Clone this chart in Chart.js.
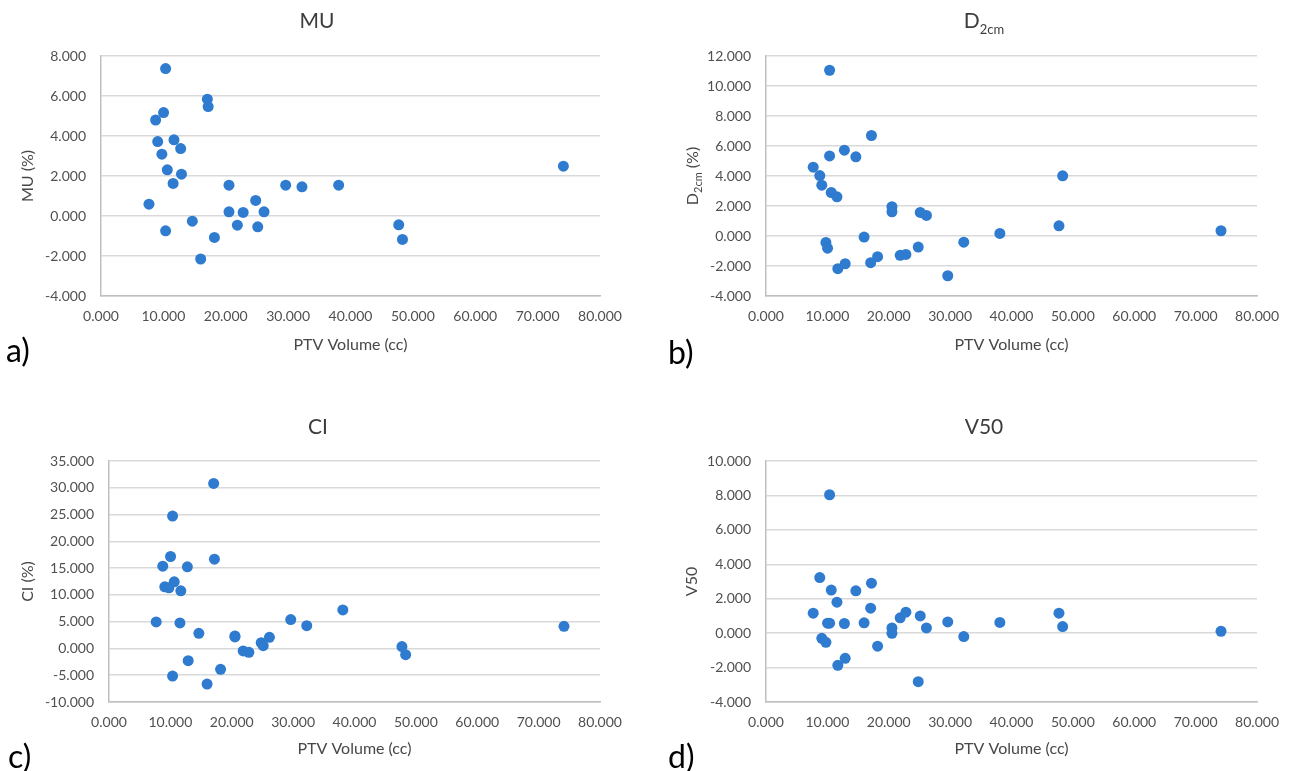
<!DOCTYPE html>
<html>
<head>
<meta charset="utf-8">
<script src="https://cdn.jsdelivr.net/npm/chart.js@4.4.1/dist/chart.umd.min.js"></script>
<style>
html, body { margin: 0; padding: 0; background: #ffffff; }
body { width: 1291px; height: 771px; position: relative; overflow: hidden; }
canvas { position: absolute; }
</style>
</head>
<body>
<canvas id="chartMU" width="645" height="385" style="left:0px;top:0px"></canvas>
<canvas id="chartD2cm" width="646" height="385" style="left:645px;top:0px"></canvas>
<canvas id="chartCI" width="645" height="381" style="left:0px;top:390px"></canvas>
<canvas id="chartV50" width="646" height="381" style="left:645px;top:390px"></canvas>
<script>
// ---------------- data ----------------
const ptvVolume = [7.69, 8.76, 9.09, 9.76, 10.03, 10.36, 10.36, 10.63, 11.56, 11.70,
                   12.77, 12.90, 14.64, 15.98, 17.05, 17.18, 18.18, 20.52, 20.52, 21.86,
                   22.79, 24.80, 25.13, 26.14, 29.61, 32.22, 38.10, 47.73, 48.33, 74.13];
const muPct   = [0.59, 4.80, 3.72, 3.09, 5.17, 7.37, -0.74, 2.31, 1.63, 3.81,
                 3.37, 2.09, -0.26, -2.15, 5.84, 5.47, -1.07, 0.21, 1.54, -0.46,
                 0.18, 0.78, -0.54, 0.21, 1.54, 1.46, 1.54, -0.44, -1.17, 2.49];
const d2cmPct = [4.59, 4.03, 3.39, -0.43, -0.81, 11.05, 5.34, 2.90, 2.61, -2.18,
                 5.72, -1.85, 5.28, -0.07, -1.78, 6.70, -1.38, 1.95, 1.61, -1.29,
                 -1.23, -0.74, 1.57, 1.37, -2.65, -0.41, 0.17, 0.68, 4.01, 0.35];
const ciPct   = [4.95, 15.36, 11.50, 11.31, 17.17, 24.71, -5.15, 12.43, 4.76, 10.75,
                 15.24, -2.28, 2.83, -6.65, 30.82, 16.67, -3.90, 2.33, 2.14, -0.47,
                 -0.72, 1.08, 0.52, 2.08, 5.39, 4.26, 7.19, 0.34, -1.16, 4.14];
const v50     = [1.16, 3.23, -0.30, -0.53, 0.58, 8.04, 0.58, 2.50, 1.80, -1.87,
                 0.56, -1.46, 2.46, 0.60, 1.45, 2.90, -0.76, 0.30, -0.01, 0.89,
                 1.22, -2.82, 1.00, 0.30, 0.65, -0.20, 0.62, 1.16, 0.38, 0.11];

// axis ranges: [min, max, step]
const xAxisRange    = [0, 80, 10];
const muAxisRange   = [-4, 8, 2];
const d2cmAxisRange = [-4, 12, 2];
const ciAxisRange   = [-10, 35, 5];
const v50AxisRange  = [-4, 10, 2];

const xAxisTitle = 'PTV Volume (cc)';

// ---------------- styling ----------------
const FONT = "Lato, 'Open Sans', 'DejaVu Sans', sans-serif";
const POINT_COLOR = '#2E7BCF';
const GRID_COLOR = '#D9D9D9';
const AXIS_COLOR = '#BFBFBF';
const TICK_COLOR = '#505050';
const AXIS_TITLE_COLOR = '#484848';
const TITLE_COLOR = '#3C3C3C';

// rich text plugin (titles with subscripts, panel letters)
const richTextPlugin = {
  id: 'richText',
  afterDraw(chart, args, opts) {
    const ctx = chart.ctx;
    (opts.items || []).forEach(it => {
      ctx.save();
      ctx.translate(it.x, it.y);
      if (it.rotate) ctx.rotate(it.rotate);
      let total = 0;
      const parts = it.parts.map(p => {
        const size = p.sub ? it.subSize : it.size;
        const font = size + 'px ' + FONT;
        ctx.font = font;
        const w = ctx.measureText(p.text).width;
        total += w;
        return { text: p.text, font: font, w: w, dy: p.sub ? it.subShift : 0 };
      });
      let x = it.align === 'left' ? 0 : -total / 2;
      const base = it.size * 0.36;
      ctx.fillStyle = it.color;
      ctx.textAlign = 'left';
      ctx.textBaseline = 'alphabetic';
      parts.forEach(p => {
        ctx.font = p.font;
        ctx.fillText(p.text, x, base + p.dy);
        x += p.w;
      });
      ctx.restore();
    });
  }
};

function makePanel(p) {
  const points = ptvVolume.map((v, i) => ({ x: v, y: p.values[i] }));
  const W = p.W, H = p.H, plot = p.plot;
  const items = [
    { x: p.titleX, y: p.titleY, parts: p.title, size: 21, subSize: 13, subShift: 6, color: TITLE_COLOR },
    { x: p.labelX, y: p.labelY, parts: [{ text: p.label }], size: 32, color: '#000000', align: 'left' }
  ];
  if (p.richYTitle) {
    items.push({ x: p.yTitleX, y: (plot.t + plot.b) / 2, rotate: -Math.PI / 2, parts: p.richYTitle,
                 size: 16, subSize: 11, subShift: 4, color: AXIS_TITLE_COLOR });
  }
  return new Chart(document.getElementById(p.id), {
    type: 'scatter',
    data: {
      datasets: [{
        data: points,
        backgroundColor: POINT_COLOR,
        borderColor: POINT_COLOR,
        borderWidth: 0,
        pointRadius: 5.5,
        pointHoverRadius: 5.5
      }]
    },
    plugins: [richTextPlugin],
    options: {
      responsive: false,
      animation: false,
      devicePixelRatio: 1,
      layout: { padding: { left: 0, top: plot.t, right: W - plot.r, bottom: 0 } },
      plugins: {
        legend: { display: false },
        tooltip: { enabled: false },
        title: { display: false },
        richText: { items: items }
      },
      scales: {
        x: {
          type: 'linear',
          min: xAxisRange[0], max: xAxisRange[1],
          afterFit: s => { s.height = H - plot.b; },
          ticks: {
            stepSize: xAxisRange[2], padding: p.xTickPad, autoSkip: false, maxRotation: 0,
            color: TICK_COLOR, font: { family: FONT, size: 14 },
            callback: v => Number(v).toFixed(3)
          },
          grid: { display: false, drawTicks: false },
          border: { display: true, color: AXIS_COLOR, width: 1.5 },
          title: {
            display: true, text: xAxisTitle, color: AXIS_TITLE_COLOR,
            font: { family: FONT, size: 16 }, padding: { top: 0, bottom: p.xTitlePad }
          }
        },
        y: {
          type: 'linear',
          min: p.range[0], max: p.range[1],
          afterFit: s => { s.width = plot.l; },
          ticks: {
            stepSize: p.range[2], padding: 15,
            color: TICK_COLOR, font: { family: FONT, size: 14 },
            callback: v => Number(v).toFixed(3)
          },
          grid: { color: GRID_COLOR, lineWidth: 1.5, drawTicks: false },
          border: { display: true, color: AXIS_COLOR, width: 1.5 },
          title: {
            display: !p.richYTitle, text: p.yTitle || '', color: AXIS_TITLE_COLOR,
            font: { family: FONT, size: 16 }, padding: { top: p.yTitleX - 9.6, bottom: 0 }
          }
        }
      }
    }
  });
}

makePanel({
  id: 'chartMU', W: 645, H: 385, plot: { l: 101, r: 600, t: 56, b: 296 },
  values: muPct, range: muAxisRange,
  title: [{ text: 'MU' }], titleX: 317, titleY: 20,
  yTitle: 'MU (%)', yTitleX: 28,
  xTickPad: 12, xTitlePad: 30.4,
  label: 'a)', labelX: 6, labelY: 350
});
makePanel({
  id: 'chartD2cm', W: 646, H: 385, plot: { l: 121, r: 619, t: 56, b: 296 },
  values: d2cmPct, range: d2cmAxisRange,
  title: [{ text: 'D' }, { text: '2cm', sub: true }], titleX: 339, titleY: 20,
  richYTitle: [{ text: 'D' }, { text: '2cm', sub: true }, { text: ' (%)' }], yTitleX: 47,
  xTickPad: 12, xTitlePad: 30.4,
  label: 'b)', labelX: 23, labelY: 352
});
makePanel({
  id: 'chartCI', W: 645, H: 381, plot: { l: 109, r: 600, t: 71, b: 312 },
  values: ciPct, range: ciAxisRange,
  title: [{ text: 'CI' }], titleX: 318, titleY: 36,
  yTitle: 'CI (%)', yTitleX: 28,
  xTickPad: 12, xTitlePad: 12.4,
  label: 'c)', labelX: 8, labelY: 366
});
makePanel({
  id: 'chartV50', W: 646, H: 381, plot: { l: 121, r: 619, t: 71, b: 312 },
  values: v50, range: v50AxisRange,
  title: [{ text: 'V50' }], titleX: 339, titleY: 36,
  yTitle: 'V50', yTitleX: 47,
  xTickPad: 12, xTitlePad: 12.4,
  label: 'd)', labelX: 23, labelY: 366
});
</script>
</body>
</html>
